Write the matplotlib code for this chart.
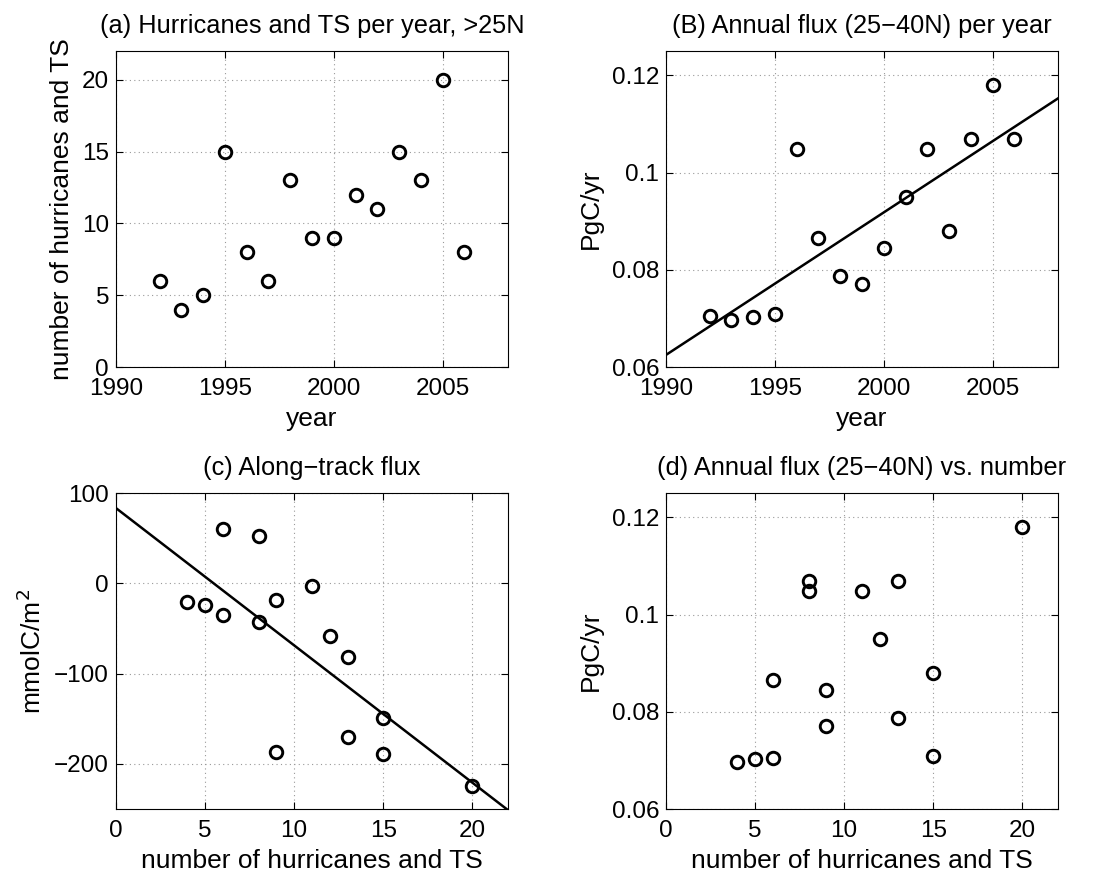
import matplotlib
matplotlib.use("Agg")
import matplotlib.pyplot as plt
import numpy as np

plt.rcParams['font.family'] = ['Liberation Sans', 'DejaVu Sans']
plt.rcParams['font.size'] = 19
plt.rcParams['xtick.labelsize'] = 17.5
plt.rcParams['ytick.labelsize'] = 17.5

# data
years = [1992, 1993, 1994, 1995, 1996, 1997, 1998, 1999, 2000, 2001, 2002, 2003, 2004, 2005, 2006]
n_storms = [6, 4, 5, 15, 8, 6, 13, 9, 9, 12, 11, 15, 13, 20, 8]
annual_flux = [0.0704, 0.0696, 0.0703, 0.0710, 0.1049, 0.0866, 0.0787, 0.0771,
               0.0845, 0.0950, 0.1049, 0.0880, 0.1070, 0.1180, 0.1070]

# along-track flux vs number of storms
track_n = [4, 5, 6, 6, 8, 8, 9, 9, 11, 12, 13, 13, 15, 15, 20]
track_flux = [-21, -24, -35, 60, 52, -43, -19, -187, -3, -58, -82, -170, -149, -189, -224]

fig = plt.figure(figsize=(11.12, 8.81), dpi=100)
W = 0.3525
H = 0.3587
ax_a = fig.add_axes([0.1043, 0.5834, W, H])
ax_b = fig.add_axes([0.5989, 0.5834, W, H])
ax_c = fig.add_axes([0.1043, 0.0817, W, H])
ax_d = fig.add_axes([0.5989, 0.0817, W, H])

mk = dict(linestyle='none', marker='o', markersize=9, markerfacecolor='none',
          markeredgecolor='black', markeredgewidth=2.1)
TITLE = 18.3


def style(ax):
    ax.grid(True, color='#999999', linestyle=(0, (1, 3)), linewidth=0.8)
    ax.tick_params(direction='in', length=5, width=0.8, top=True, right=True)
    ax.tick_params(axis='x', pad=8)
    ax.tick_params(axis='y', pad=5)
    ax.xaxis.labelpad = 5
    ax.yaxis.labelpad = 6
    for s in ax.spines.values():
        s.set_linewidth(0.8)


# (a)
ax_a.plot(years, n_storms, **mk)
ax_a.set_xlim(1990, 2008)
ax_a.set_ylim(0, 22)
ax_a.set_xticks([1990, 1995, 2000, 2005])
ax_a.set_yticks([0, 5, 10, 15, 20])
ax_a.set_xlabel('year')
ax_a.set_ylabel('number of hurricanes and TS')
ax_a.set_title('(a) Hurricanes and TS per year, >25N', fontsize=TITLE, pad=13)
style(ax_a)

# (b)
ax_b.plot(years, annual_flux, **mk)
p = np.polyfit(years, annual_flux, 1)
xx = np.array([1990, 2008])
ax_b.plot(xx, np.polyval(p, xx), color='black', linewidth=1.8)
ax_b.set_xlim(1990, 2008)
ax_b.set_ylim(0.06, 0.125)
ax_b.set_xticks([1990, 1995, 2000, 2005])
ax_b.set_yticks([0.06, 0.08, 0.1, 0.12])
ax_b.set_yticklabels(['0.06', '0.08', '0.1', '0.12'])
ax_b.set_xlabel('year')
ax_b.set_ylabel('PgC/yr')
ax_b.set_title('(B) Annual flux (25\u221240N) per year', fontsize=TITLE, pad=13)
style(ax_b)

# (c)
ax_c.plot(track_n, track_flux, **mk)
p = np.polyfit(track_n, track_flux, 1)
xx = np.array([0, 22])
ax_c.plot(xx, np.polyval(p, xx), color='black', linewidth=1.8)
ax_c.set_xlim(0, 22)
ax_c.set_ylim(-250, 100)
ax_c.set_xticks([0, 5, 10, 15, 20])
ax_c.set_yticks([-200, -100, 0, 100])
ax_c.set_xlabel('number of hurricanes and TS')
ax_c.set_ylabel('mmolC/m$^2$')
ax_c.set_title('(c) Along\u2212track flux', fontsize=TITLE, pad=13)
style(ax_c)

# (d)
ax_d.plot(n_storms, annual_flux, **mk)
ax_d.set_xlim(0, 22)
ax_d.set_ylim(0.06, 0.125)
ax_d.set_xticks([0, 5, 10, 15, 20])
ax_d.set_yticks([0.06, 0.08, 0.1, 0.12])
ax_d.set_yticklabels(['0.06', '0.08', '0.1', '0.12'])
ax_d.set_xlabel('number of hurricanes and TS')
ax_d.set_ylabel('PgC/yr')
ax_d.set_title('(d) Annual flux (25\u221240N) vs. number', fontsize=TITLE, pad=13)
style(ax_d)

fig.savefig('out.png', dpi=100)
